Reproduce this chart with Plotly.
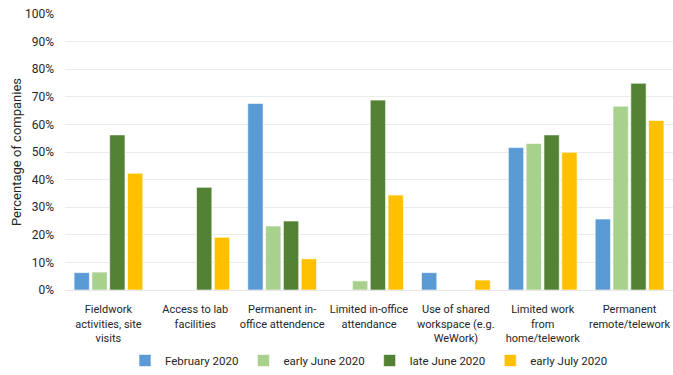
import plotly.graph_objects as go

categories = [
    "Fieldwork<br>activities, site<br>visits",
    "Access to lab<br>facilities",
    "Permanent in-<br>office attendence",
    "Limited in-office<br>attendance",
    "Use of shared<br>workspace (e.g.<br>WeWork)",
    "Limited work<br>from<br>home/telework",
    "Permanent<br>remote/telework",
]
series_names = ["February 2020", "early June 2020", "late June 2020", "early July 2020"]
feb_2020 = [6.3, 0, 67.6, 0, 6.3, 51.6, 25.7]
early_june_2020 = [6.5, 0, 23.2, 3.3, 0, 53.1, 66.6]
late_june_2020 = [56.2, 37.2, 25.0, 68.8, 0, 56.2, 74.9]
early_july_2020 = [42.3, 19.1, 11.3, 34.4, 3.6, 49.9, 61.4]
y_ticks = [0, 10, 20, 30, 40, 50, 60, 70, 80, 90, 100]

colors = ["#5B9BD5", "#A9D18E", "#548235", "#FFC000"]
all_series = [feb_2020, early_june_2020, late_june_2020, early_july_2020]

FONT = "Roboto, sans-serif"

fig = go.Figure()
for name, vals, c in zip(series_names, all_series, colors):
    fig.add_trace(go.Bar(
        x=categories, y=vals, name=name,
        marker=dict(color=c, line=dict(color="rgba(255,255,255,0.6)", width=1)),
    ))

fig.update_layout(
    width=673, height=375,
    margin=dict(l=65, r=0, t=14, b=85),
    barmode="group", bargap=0.18, bargroupgap=0.14,
    plot_bgcolor="white", paper_bgcolor="white",
    font=dict(family=FONT, size=12, color="#262626"),
    legend=dict(orientation="h", x=0.5, xanchor="center", y=-0.31, yanchor="bottom",
                font=dict(size=11.5), itemwidth=30, traceorder="normal"),
    showlegend=True,
)
fig.update_yaxes(
    range=[0, 100], tickvals=y_ticks, ticktext=[f"{v}%" for v in y_ticks],
    showgrid=True, gridcolor="#EBEBEB", gridwidth=1, zeroline=False,
    title=dict(text="Percentage of companies", font=dict(size=13), standoff=0),
    ticks="", ticklabelstandoff=10, automargin=True, tickfont=dict(size=12),
)
fig.update_xaxes(showgrid=False, showline=True, linecolor="#E6E6E6", ticks="",
                 tickfont=dict(size=11), tickangle=0, automargin=False,
                 ticklabelstandoff=9)

fig.write_html("out.html")
